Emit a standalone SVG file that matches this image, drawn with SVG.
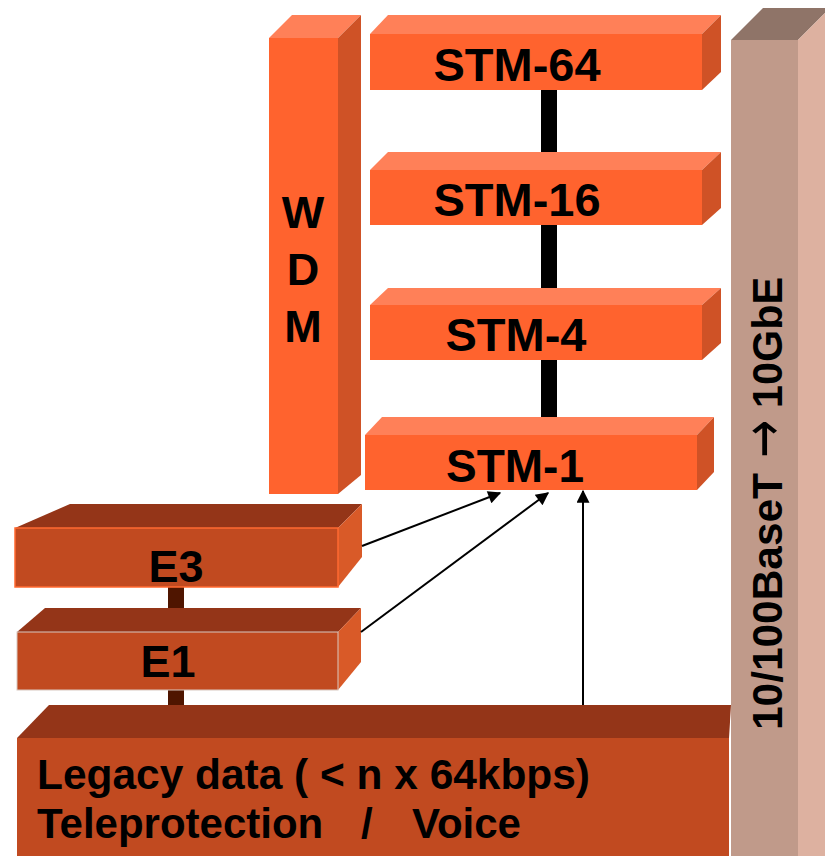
<svg xmlns="http://www.w3.org/2000/svg" width="825" height="856" viewBox="0 0 825 856">
<style>
.t{font-family:"Liberation Sans",Arial,sans-serif;font-weight:bold;fill:#000}
.f1{fill:#FF632E}.tp1{fill:#FF8058}.sd1{fill:#CF5226}
.f2{fill:#C14A20}.tp2{fill:#943518}.sd2{fill:#D95A28}
</style>
<defs>
<marker id="ah" viewBox="0 0 10 10" refX="9" refY="5" markerWidth="8" markerHeight="6.5" orient="auto" markerUnits="strokeWidth"><path d="M0,0L10,5L0,10z" fill="#000"/></marker>
</defs>
<rect width="825" height="856" fill="#fff"/>
<g id="bar10g">
<polygon points="731,40 763,8 830,8 798,40" fill="#8F7468"/>
<polygon points="798,40 830,8 830,856 798,856" fill="#DDB1A0"/>
<rect x="731" y="40" width="67" height="816" fill="#C09A8A"/>
<g transform="translate(782,0) rotate(-90)">
<text class="t" font-size="43" x="-730" y="0" textLength="257" lengthAdjust="spacingAndGlyphs">10/100BaseT</text>
<text font-family="DejaVu Sans,sans-serif" font-size="58" x="-458" y="1" textLength="38" lengthAdjust="spacingAndGlyphs">→</text>
<text class="t" font-size="43" x="-408" y="0" textLength="131" lengthAdjust="spacingAndGlyphs">10GbE</text>
</g>
</g>
<g id="links">
<rect x="541" y="88" width="16" height="66" fill="#000"/>
<rect x="541" y="224" width="16" height="66" fill="#000"/>
<rect x="541" y="358" width="16" height="61" fill="#000"/>
<rect x="168" y="585" width="16" height="25" fill="#4F1500"/>
<rect x="168" y="688" width="16" height="19" fill="#4F1500"/>
</g>
<g id="wdm">
<polygon points="269,38 292,15 361,15 338,38" class="tp1"/>
<polygon points="338,38 361,15 361,475 338,494" class="sd1"/>
<rect x="269" y="38" width="69" height="456" class="f1"/>
<text class="t" font-size="45" x="303" y="228" text-anchor="middle">W</text>
<text class="t" font-size="45" x="303" y="285" text-anchor="middle">D</text>
<text class="t" font-size="45" x="303" y="342" text-anchor="middle">M</text>
</g>
<g id="stm64">
<polygon points="370,34 388,15 721,15 702,34" class="tp1"/>
<polygon points="702,34 721,15 721,72 702,90" class="sd1"/>
<rect x="370" y="34" width="332" height="56" class="f1"/>
<text class="t" font-size="47" x="517" y="81" text-anchor="middle">STM-64</text>
</g>
<g id="stm16">
<polygon points="370,170 388,152 721,152 702,170" class="tp1"/>
<polygon points="702,170 721,152 721,208 702,225" class="sd1"/>
<rect x="370" y="170" width="332" height="55" class="f1"/>
<text class="t" font-size="47" x="517" y="216" text-anchor="middle">STM-16</text>
</g>
<g id="stm4">
<polygon points="370,305 388,288 721,288 702,305" class="tp1"/>
<polygon points="702,305 721,288 721,343 702,360" class="sd1"/>
<rect x="370" y="305" width="332" height="55" class="f1"/>
<text class="t" font-size="47" x="516" y="351" text-anchor="middle">STM-4</text>
</g>
<g id="stm1">
<polygon points="365,435 382,417 714,417 697,435" class="tp1"/>
<polygon points="697,435 714,417 714,472 697,490" class="sd1"/>
<rect x="365" y="435" width="332" height="55" class="f1"/>
<text class="t" font-size="46" x="515" y="482" text-anchor="middle">STM-1</text>
</g>
<g id="e3">
<polygon points="15,528 70,504 362,504 338,528" class="tp2"/>
<polygon points="338,528 362,504 362,557 338,587" class="sd2"/>
<rect x="15" y="528" width="323" height="59" class="f2" stroke="#FF6A30" stroke-width="1.5"/>
<text class="t" font-size="45" x="176" y="582" text-anchor="middle">E3</text>
</g>
<g id="e1">
<polygon points="17,632 45,608 361,608 338,632" class="tp2"/>
<polygon points="338,632 361,608 361,662 338,690" class="sd2"/>
<rect x="17" y="632" width="321" height="58" class="f2" stroke="#D8C8C0" stroke-width="1"/>
<text class="t" font-size="45" x="168" y="677" text-anchor="middle">E1</text>
</g>
<g id="legacy">
<polygon points="17,738 49,705 731,705 729,738" class="tp2"/>
<rect x="17" y="738" width="712" height="120" class="f2"/>
<text class="t" font-size="42" x="37" y="789" textLength="553" lengthAdjust="spacingAndGlyphs">Legacy data ( &lt; n x 64kbps)</text>
<text class="t" font-size="42" x="37" y="838">Teleprotection</text>
<text class="t" font-size="42" x="361" y="838">/</text>
<text class="t" font-size="42" x="412" y="838">Voice</text>
</g>
<g id="arrows" stroke="#000" stroke-width="2" fill="none">
<line x1="362" y1="546" x2="500" y2="493" marker-end="url(#ah)"/>
<line x1="361" y1="632" x2="548" y2="493" marker-end="url(#ah)"/>
<line x1="583" y1="705" x2="583" y2="491" marker-end="url(#ah)"/>
</g>
</svg>
